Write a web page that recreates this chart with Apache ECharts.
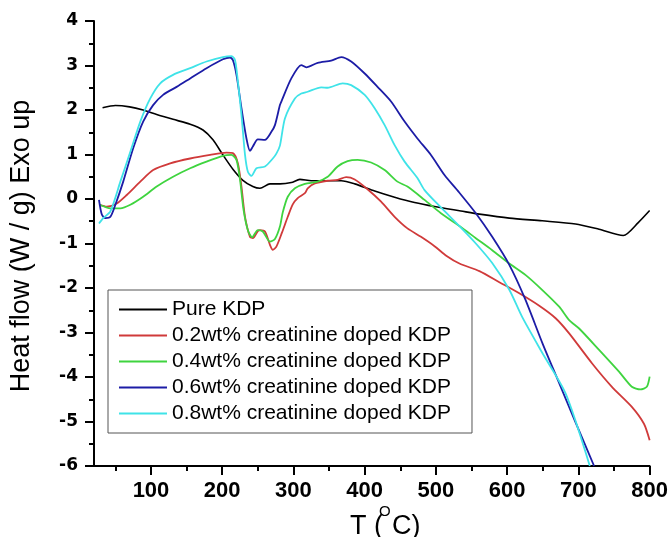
<!DOCTYPE html>
<html>
<head>
<meta charset="utf-8">
<script src="https://cdn.jsdelivr.net/npm/echarts@6/dist/echarts.min.js"></script>
<style>
  html, body { margin: 0; padding: 0; background: #fff; }
  #chart { width: 671px; height: 537px; }
</style>
</head>
<body>
<div id="chart"></div>
<script>
// DSC curves, [T (°C), heat flow (W/g)]
const pureKDP = [[32,2.05],[50,2.10],[70,2.07],[89,2.0],[108,1.90],[131,1.79],[155,1.68],[173,1.55],[187,1.33],[201,0.99],[215,0.67],[229,0.42],[243,0.28],[253,0.24],[267,0.34],[281,0.34],[297,0.37],[309,0.44],[325,0.41],[353,0.41],[367,0.41],[386,0.34],[414,0.18],[442,0.04],[470,-0.08],[498,-0.17],[535,-0.27],[561,-0.34],[603,-0.43],[649,-0.49],[696,-0.56],[729,-0.68],[763,-0.82],[784,-0.53],[800,-0.26]];
const doped02 = [[28,-0.13],[38,-0.17],[52,-0.10],[66,0.09],[85,0.39],[103,0.65],[127,0.80],[155,0.91],[183,0.99],[206,1.04],[215,1.03],[222,0.80],[227,0.28],[232,-0.40],[239,-0.85],[243,-0.88],[250,-0.72],[253,-0.70],[260,-0.73],[267,-1.03],[271,-1.14],[276,-1.07],[284,-0.75],[292,-0.40],[299,-0.12],[306,0.02],[316,0.13],[320,0.24],[330,0.35],[348,0.41],[362,0.43],[374,0.49],[386,0.44],[404,0.22],[423,-0.06],[442,-0.40],[460,-0.66],[479,-0.85],[498,-1.06],[515,-1.28],[533,-1.45],[561,-1.62],[589,-1.87],[617,-2.12],[645,-2.40],[668,-2.68],[687,-3.02],[719,-3.69],[747,-4.22],[775,-4.67],[792,-5.05],[800,-5.42]];
const doped04 = [[28,-0.13],[43,-0.21],[57,-0.21],[71,-0.13],[89,0.05],[108,0.28],[131,0.50],[155,0.69],[178,0.84],[201,0.97],[213,0.99],[220,0.88],[225,0.43],[230,-0.25],[236,-0.70],[242,-0.86],[250,-0.70],[257,-0.73],[267,-0.96],[274,-0.90],[281,-0.62],[285,-0.30],[292,0.05],[302,0.24],[316,0.34],[334,0.39],[348,0.50],[362,0.73],[376,0.85],[390,0.88],[409,0.82],[428,0.65],[446,0.39],[460,0.28],[484,-0.02],[507,-0.32],[534,-0.62],[556,-0.88],[579,-1.15],[603,-1.45],[626,-1.71],[649,-2.04],[673,-2.42],[687,-2.72],[701,-2.91],[729,-3.39],[757,-3.88],[775,-4.22],[787,-4.28],[796,-4.22],[800,-3.99]];
const doped06 = [[27,-0.02],[31,-0.35],[36,-0.43],[43,-0.40],[50,-0.13],[61,0.39],[75,1.14],[89,1.74],[103,2.11],[117,2.34],[136,2.52],[155,2.71],[178,2.94],[201,3.14],[211,3.18],[215,3.12],[220,2.79],[227,2.04],[234,1.36],[239,1.08],[243,1.18],[250,1.34],[260,1.33],[269,1.51],[274,1.66],[281,2.11],[283,2.19],[297,2.71],[311,3.01],[318,2.96],[334,3.06],[353,3.11],[367,3.19],[381,3.09],[400,2.82],[418,2.52],[437,2.19],[456,1.74],[474,1.36],[493,0.99],[512,0.54],[532,0.16],[556,-0.32],[579,-0.85],[603,-1.48],[625,-2.24],[650,-3.26],[672,-4.10],[696,-5.02],[722,-6.0]];
const doped08 = [[27,-0.55],[33,-0.43],[43,-0.28],[57,0.39],[71,1.06],[85,1.74],[99,2.26],[113,2.60],[131,2.79],[155,2.94],[178,3.09],[201,3.19],[213,3.21],[218,3.12],[222,2.64],[227,1.89],[232,0.99],[236,0.61],[241,0.52],[248,0.69],[260,0.73],[271,0.91],[276,1.02],[281,1.20],[288,1.81],[302,2.26],[311,2.37],[320,2.41],[339,2.51],[348,2.50],[369,2.60],[381,2.56],[400,2.34],[414,2.04],[428,1.66],[442,1.21],[456,0.84],[474,0.47],[484,0.20],[507,-0.19],[533,-0.61],[556,-1.0],[579,-1.44],[603,-2.04],[621,-2.65],[649,-3.45],[682,-4.37],[716,-6.0]];

const seriesNames = ["Pure KDP", "0.2wt% creatinine doped KDP", "0.4wt% creatinine doped KDP", "0.6wt% creatinine doped KDP", "0.8wt% creatinine doped KDP"];
const seriesData = [pureKDP, doped02, doped04, doped06, doped08];
const seriesColors = ["#000000", "#d03a3a", "#3fd43f", "#1c1ca6", "#3fe3e8"];

const xMajorTicks = [100, 200, 300, 400, 500, 600, 700, 800];
const xMinorTicks = [50, 150, 250, 350, 450, 550, 650, 750];

const chart = echarts.init(document.getElementById("chart"), null, { renderer: "canvas" });

const option = {
  animation: false,
  backgroundColor: "#fff",
  grid: { left: 94, right: 20, top: 21, bottom: 71 },
  legend: {
    left: 108,
    top: 290,
    orient: "vertical",
    icon: "rect",
    itemWidth: 48,
    itemHeight: 2,
    itemGap: 5,
    padding: [9, 21, 9, 11],
    borderColor: "#555",
    borderWidth: 1,
    textStyle: { color: "#000", fontSize: 21, fontFamily: "Liberation Sans, Arial" },
    data: seriesNames,
  },
  xAxis: [
    {
      type: "value",
      min: 20,
      max: 800,
      position: "bottom",
      axisLine: { onZero: false, lineStyle: { color: "#000", width: 2 } },
      axisTick: { customValues: xMajorTicks, length: 9, lineStyle: { color: "#000", width: 2 } },
      axisLabel: {
        customValues: xMajorTicks,
        margin: 14,
        color: "#000",
        fontSize: 22,
        fontWeight: "bold",
        fontFamily: "Liberation Sans, Arial",
      },
      splitLine: { show: false },
    },
    {
      // minor ticks only
      type: "value",
      min: 20,
      max: 800,
      position: "bottom",
      axisLine: { show: false, onZero: false },
      axisTick: { customValues: xMinorTicks, length: 5, lineStyle: { color: "#000", width: 2 } },
      axisLabel: { show: false },
      splitLine: { show: false },
    },
  ],
  yAxis: {
    type: "value",
    min: -6,
    max: 4,
    interval: 1,
    axisLine: { show: true, onZero: false, lineStyle: { color: "#000", width: 2 } },
    axisTick: { show: true, length: 9, lineStyle: { color: "#000", width: 2 } },
    minorTick: { show: true, splitNumber: 2, length: 5, lineStyle: { color: "#000", width: 2 } },
    axisLabel: {
      margin: 16,
      color: "#000",
      fontSize: 17,
      fontWeight: "bold",
      fontFamily: "DejaVu Sans",
    },
    splitLine: { show: false },
  },
  graphic: [
    {
      type: "text",
      x: 22,
      y: 246,
      rotation: Math.PI / 2,
      style: {
        text: "Heat flow (W / g) Exo up",
        x: 0,
        y: 0,
        align: "center",
        verticalAlign: "middle",
        fontSize: 27,
        fontFamily: "Liberation Sans, Arial",
        fill: "#000",
      },
    },
    {
      type: "text",
      x: 350,
      y: 527,
      style: { text: "T (", verticalAlign: "middle", fontSize: 27, fontFamily: "Liberation Sans, Arial", fill: "#000" },
    },
    {
      type: "text",
      x: 379,
      y: 512,
      style: { text: "O", verticalAlign: "middle", fontSize: 15, fontFamily: "Liberation Sans, Arial", fill: "#000" },
    },
    {
      type: "text",
      x: 392,
      y: 527,
      style: { text: "C)", verticalAlign: "middle", fontSize: 27, fontFamily: "Liberation Sans, Arial", fill: "#000" },
    },
  ],
  series: seriesNames.map((name, i) => ({
    name: name,
    type: "line",
    xAxisIndex: 0,
    data: seriesData[i],
    color: seriesColors[i],
    showSymbol: false,
    symbol: "none",
    smooth: 0.25,
    lineStyle: { width: i === 0 ? 1.6 : 1.8, color: seriesColors[i] },
  })),
};

chart.setOption(option);
</script>
</body>
</html>
